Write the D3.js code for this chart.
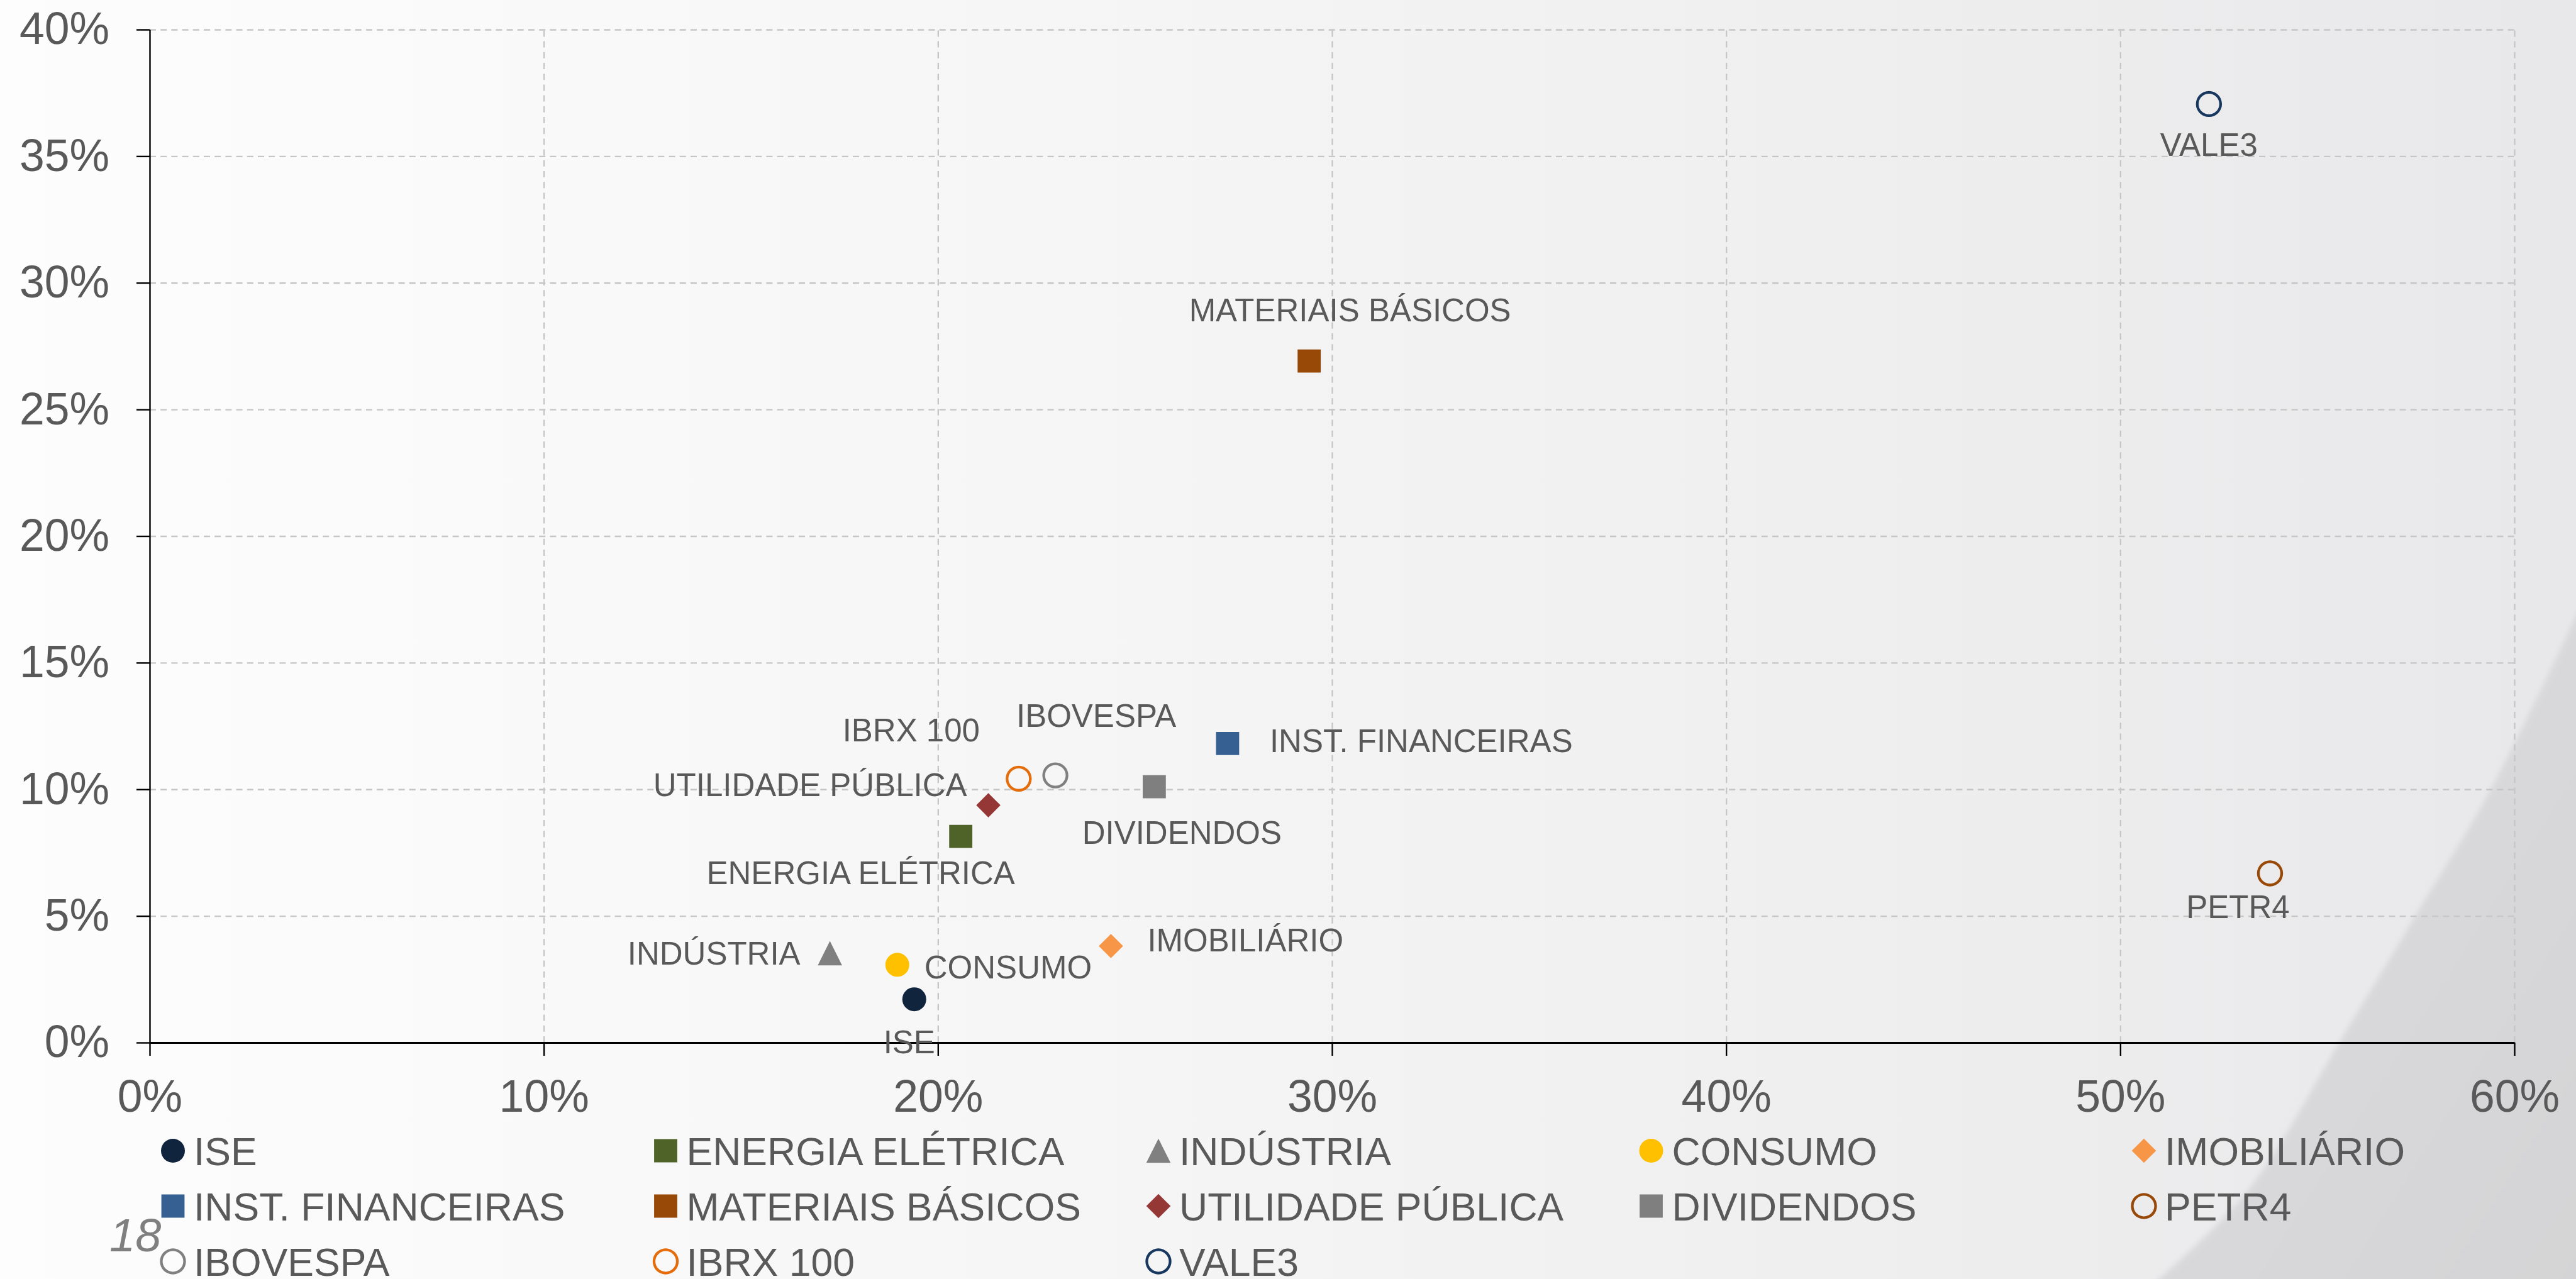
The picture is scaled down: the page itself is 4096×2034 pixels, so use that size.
<!DOCTYPE html>
<html>
<head>
<meta charset="utf-8">
<script src="https://cdn.jsdelivr.net/npm/d3@7"></script>
<style>
  html, body { margin: 0; padding: 0; overflow: hidden; }
  svg { display: block; }
  text { font-family: "Liberation Sans", Arial, sans-serif; fill: #595959; }
</style>
</head>
<body>
<script>
// series (x = risco, y = retorno)
var names = ['ISE', 'ENERGIA ELÉTRICA', 'INDÚSTRIA', 'CONSUMO', 'IMOBILIÁRIO',
             'INST. FINANCEIRAS', 'MATERIAIS BÁSICOS', 'UTILIDADE PÚBLICA', 'DIVIDENDOS', 'PETR4',
             'IBOVESPA', 'IBRX 100', 'VALE3'];
var xValues = [0.1940, 0.2058, 0.1726, 0.1897, 0.2439,
               0.2735, 0.2942, 0.2128, 0.2549, 0.5380,
               0.2298, 0.2205, 0.5225];
var yValues = [0.0171, 0.0814, 0.0353, 0.0307, 0.0381,
               0.1181, 0.2691, 0.0937, 0.1010, 0.0668,
               0.1055, 0.1042, 0.3706];
var shapes = ['circle', 'square', 'triangle', 'circle', 'diamond',
              'square', 'square', 'diamond', 'square', 'ring',
              'ring', 'ring', 'ring'];
var colors = ['#10243e', '#4f6228', '#808080', '#ffc000', '#f79646',
              '#376092', '#984807', '#953735', '#7f7f7f', '#984807',
              '#808080', '#e46c0a', '#17375e'];
var xTicks = [0, 0.1, 0.2, 0.3, 0.4, 0.5, 0.6];
var yTicks = [0, 0.05, 0.1, 0.15, 0.2, 0.25, 0.3, 0.35, 0.4];

// where each data label sits relative to its marker (px)
var labelPlace = [
  ['middle', -8, 68], ['middle', -159, 57], ['end', -47, 0], ['start', 43, 3], ['start', 58, -10],
  ['start', 67, -5], ['middle', 65, -82], ['end', -34, -33], ['middle', 44, 72], ['middle', -51, 53],
  ['middle', 65, -95], ['middle', -171, -78], ['middle', 0, 64]
];

var W = 4096, H = 2034;
var margin = {left: 238, right: 98, top: 47, bottom: 376};
var width = W - margin.left - margin.right,
    height = H - margin.top - margin.bottom;

var x = d3.scaleLinear().domain([0, 0.6]).range([0, width]);
var y = d3.scaleLinear().domain([0, 0.4]).range([height, 0]);
var pct = d3.format('.0%');

var svg = d3.select('body').append('svg')
    .attr('width', W)
    .attr('height', H);

// background
var defs = svg.append('defs');
var bg = defs.append('linearGradient').attr('id', 'bg')
    .attr('x1', '0').attr('y1', '0').attr('x2', '1').attr('y2', '0');
bg.append('stop').attr('offset', '0').attr('stop-color', '#fdfdfd');
bg.append('stop').attr('offset', '0.4').attr('stop-color', '#f6f6f7');
bg.append('stop').attr('offset', '0.75').attr('stop-color', '#eeeeef');
bg.append('stop').attr('offset', '1').attr('stop-color', '#e8e8ea');
var sw = defs.append('linearGradient').attr('id', 'swoosh')
    .attr('x1', '0').attr('y1', '0').attr('x2', '1').attr('y2', '1');
sw.append('stop').attr('offset', '0').attr('stop-color', '#dedee0');
sw.append('stop').attr('offset', '1').attr('stop-color', '#d4d4d6');
defs.append('filter').attr('id', 'soft')
  .append('feGaussianBlur').attr('stdDeviation', 4);

svg.append('rect').attr('width', W).attr('height', H).attr('fill', 'url(#bg)');

var curvePts = [[4110, 950], [3960, 1256], [3842, 1454], [3723, 1652], [3573, 1895], [3420, 2045]];
var curveLine = d3.line().curve(d3.curveCatmullRom);
svg.append('path')
    .attr('d', curveLine(curvePts) + 'L4110,2045Z')
    .attr('fill', 'url(#swoosh)')
    .attr('filter', 'url(#soft)');

var g = svg.append('g')
    .attr('transform', 'translate(' + margin.left + ',' + margin.top + ')');

// dashed grid
var gridX = g.append('g')
    .attr('transform', 'translate(0,' + height + ')')
    .call(d3.axisBottom(x).tickValues(xTicks.slice(1)).tickSize(-height).tickFormat(''));
var gridY = g.append('g')
    .call(d3.axisLeft(y).tickValues(yTicks.slice(1)).tickSize(-width).tickFormat(''));
[gridX, gridY].forEach(function(gr) {
  gr.select('.domain').remove();
  gr.selectAll('line')
      .attr('stroke', '#c6c6c6')
      .attr('stroke-width', 2.3)
      .attr('stroke-dasharray', '10,7.2');
});

// axes
var xAxis = g.append('g')
    .attr('transform', 'translate(0,' + height + ')')
    .call(d3.axisBottom(x).tickValues(xTicks).tickSize(21).tickSizeOuter(0)
      .tickPadding(38).tickFormat(pct));
var yAxis = g.append('g')
    .call(d3.axisLeft(y).tickValues(yTicks).tickSize(21).tickSizeOuter(0)
      .tickPadding(43).tickFormat(pct));
[xAxis, yAxis].forEach(function(ax) {
  ax.select('.domain').attr('stroke', '#000').attr('stroke-width', 2.4);
  ax.selectAll('.tick line').attr('stroke', '#000').attr('stroke-width', 2.4);
  ax.selectAll('.tick text')
      .attr('fill', '#595959')
      .style('font-size', '71.5px')
      .style('font-family', '"Liberation Sans", Arial, sans-serif');
});
xAxis.select('.domain').attr('stroke-width', 3);

// marker shapes
function markerPath(shape) {
  if (shape === 'square') return 'M-18.4,-18.4H18.4V18.4H-18.4Z';
  if (shape === 'diamond') return 'M0,-19.3L19.3,0L0,19.3L-19.3,0Z';
  if (shape === 'triangle') return 'M0,-19.3L19.3,19.3L-19.3,19.3Z';
  if (shape === 'ring') return d3.arc().innerRadius(16.4).outerRadius(20.7)
      .startAngle(0).endAngle(2 * Math.PI)();
  return d3.symbol().type(d3.symbolCircle).size(Math.PI * 19 * 19)();
}

var data = names.map(function(n, i) {
  return {name: n, x: xValues[i], y: yValues[i], shape: shapes[i], color: colors[i], place: labelPlace[i]};
});

// data labels
g.selectAll('text.lbl')
    .data(data)
  .enter().append('text')
    .attr('class', 'lbl')
    .text(function(d) { return d.name; })
    .attr('text-anchor', function(d) { return d.place[0]; })
    .attr('x', function(d) { return x(d.x) + d.place[1]; })
    .attr('y', function(d) { return y(d.y) + d.place[2]; })
    .attr('dy', '0.36em')
    .style('font-size', '51px');

// points
g.selectAll('path.pt')
    .data(data)
  .enter().append('path')
    .attr('class', 'pt')
    .attr('d', function(d) { return markerPath(d.shape); })
    .attr('transform', function(d) { return 'translate(' + x(d.x) + ',' + y(d.y) + ')'; })
    .attr('fill', function(d) { return d.color; });

// legend, 5 columns
var legend = svg.append('g');
var items = legend.selectAll('g')
    .data(data)
  .enter().append('g')
    .attr('transform', function(d, i) {
      return 'translate(' + (275 + (i % 5) * 783.5) + ',' + (1830 + Math.floor(i / 5) * 88) + ')';
    });
items.append('path')
    .attr('d', function(d) { return markerPath(d.shape); })
    .attr('fill', function(d) { return d.color; });
items.append('text')
    .text(function(d) { return d.name; })
    .attr('x', 33)
    .attr('dy', '0.36em')
    .style('font-size', '62.5px');

// page number
svg.append('text')
    .text('18')
    .attr('x', 174)
    .attr('y', 1990)
    .style('font-size', '74px')
    .style('font-style', 'italic')
    .style('fill', '#7f7f7f');
</script>
</body>
</html>
